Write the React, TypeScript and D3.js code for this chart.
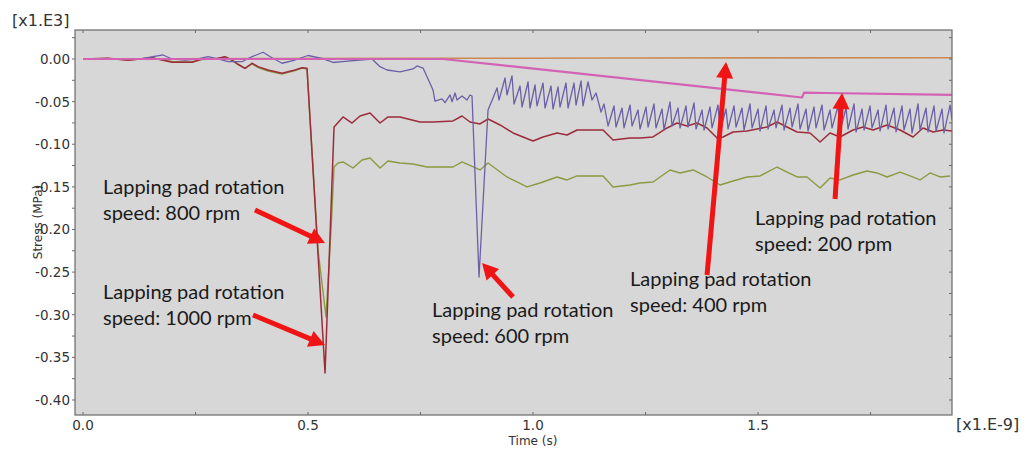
import React from 'react';
import * as d3 from 'd3';

// ---------- data (time in x1.E-9 s, stress in x1.E3 MPa) ----------
const xTickValues = [0, 0.5, 1.0, 1.5];
const xTickLabels = ['0.0', '0.5', '1.0', '1.5'];
const xMinorValues = [0.25, 0.75, 1.25, 1.75];
const yTickValues = [0, -0.05, -0.1, -0.15, -0.2, -0.25, -0.3, -0.35, -0.4];
const yTickLabels = ['0.00', '-0.05', '-0.10', '-0.15', '-0.20', '-0.25', '-0.30', '-0.35', '-0.40'];
const yMinorValues = [0.025, -0.025, -0.075, -0.125, -0.175, -0.225, -0.275, -0.325, -0.375];

// 1000 rpm (dark red)
const redT = [0, 0.0556, 0.1, 0.1533, 0.1978, 0.2422, 0.2644, 0.2933, 0.3156, 0.3311, 0.3444, 0.36, 0.3756, 0.3889, 0.4111, 0.4422, 0.4711, 0.4867, 0.4978, 0.5378, 0.5578, 0.5778, 0.5978, 0.6156, 0.6378, 0.66, 0.6778, 0.7044, 0.7489, 0.7778, 0.8222, 0.8422, 0.86, 0.8822, 0.9, 0.9267, 0.9556, 1.0, 1.0222, 1.0533, 1.0756, 1.0978, 1.1556, 1.1778, 1.2156, 1.2378, 1.2667, 1.2978, 1.32, 1.3422, 1.3644, 1.3867, 1.4089, 1.4222, 1.4444, 1.4756, 1.4978, 1.52, 1.5422, 1.5644, 1.5867, 1.6156, 1.6378, 1.66, 1.6822, 1.7111, 1.7333, 1.7556, 1.7867, 1.8156, 1.8444, 1.8667, 1.8889, 1.9111, 1.9311];
const redV = [0, 0.0008, -0.0015, 0.0015, -0.0039, -0.0039, 0, 0, 0.0027, -0.0012, -0.0062, -0.0109, -0.005, -0.009, -0.0129, -0.0168, -0.0129, -0.0102, -0.0109, -0.3683, -0.0798, -0.068, -0.0751, -0.0669, -0.0633, -0.0751, -0.068, -0.068, -0.0739, -0.0739, -0.0727, -0.0669, -0.0739, -0.0762, -0.0704, -0.0774, -0.0868, -0.0962, -0.0915, -0.0868, -0.0892, -0.0833, -0.0833, -0.095, -0.0927, -0.0927, -0.0915, -0.0809, -0.0751, -0.0786, -0.0751, -0.0809, -0.0927, -0.0915, -0.0856, -0.0845, -0.0821, -0.0798, -0.0739, -0.0798, -0.0856, -0.0868, -0.0974, -0.0868, -0.0915, -0.0833, -0.0798, -0.0833, -0.0774, -0.0833, -0.0915, -0.0809, -0.0856, -0.0833, -0.0845];

// 800 rpm (olive green)
const greenT = [0, 0.0556, 0.1, 0.1533, 0.1978, 0.2422, 0.2644, 0.2933, 0.3156, 0.3311, 0.3444, 0.36, 0.3756, 0.3889, 0.4111, 0.4422, 0.4711, 0.4867, 0.4978, 0.5222, 0.54, 0.5511, 0.5578, 0.5667, 0.5778, 0.6, 0.62, 0.6378, 0.66, 0.6778, 0.7044, 0.7333, 0.7644, 0.8222, 0.8422, 0.8822, 0.9, 0.9422, 0.9867, 1.0156, 1.0533, 1.0756, 1.0978, 1.1556, 1.1778, 1.2156, 1.2378, 1.2667, 1.3044, 1.3267, 1.3556, 1.3867, 1.4156, 1.4444, 1.4756, 1.5044, 1.5422, 1.5644, 1.5867, 1.6089, 1.6378, 1.66, 1.6822, 1.7111, 1.7422, 1.7644, 1.7867, 1.8156, 1.8378, 1.86, 1.8822, 1.9044, 1.9267];
const greenV = [0, 0.0006, -0.0012, 0.0012, -0.0029, -0.0035, -0.0006, 0, 0.0023, -0.0018, -0.0064, -0.0111, -0.0059, -0.01, -0.0141, -0.0176, -0.0135, -0.0106, -0.0117, -0.224, -0.3026, -0.2006, -0.1267, -0.122, -0.1208, -0.1279, -0.1185, -0.1161, -0.1279, -0.1196, -0.122, -0.1232, -0.1267, -0.1267, -0.1208, -0.1302, -0.122, -0.1384, -0.1501, -0.1455, -0.1384, -0.1419, -0.1372, -0.1372, -0.1501, -0.1478, -0.1455, -0.1443, -0.1302, -0.1337, -0.1302, -0.1384, -0.1478, -0.1431, -0.1384, -0.1372, -0.1267, -0.1326, -0.1384, -0.1384, -0.1513, -0.1396, -0.1419, -0.1361, -0.1314, -0.1337, -0.1384, -0.1326, -0.1372, -0.1419, -0.1337, -0.1384, -0.1372];

// 600 rpm (purple)
const purpleT = [0, 0.1267, 0.1778, 0.1978, 0.2267, 0.2556, 0.2778, 0.3, 0.3222, 0.3533, 0.3756, 0.4, 0.42, 0.4422, 0.4711, 0.5, 0.5311, 0.5556, 0.5822, 0.6156, 0.6422, 0.66, 0.6756, 0.7044, 0.7333, 0.7422, 0.7556, 0.7778, 0.7822, 0.7978, 0.8044, 0.8156, 0.82, 0.8267, 0.8311, 0.8422, 0.8533, 0.86, 0.8644, 0.88, 0.9, 0.9111, 0.92,
  0.9244, 0.9378, 0.9422, 0.9533, 0.9578, 0.9711, 0.9756, 0.9889, 0.9933, 1.0044, 1.0089, 1.0222, 1.0267, 1.04, 1.0444, 1.0556, 1.06, 1.0733, 1.0778, 1.0911, 1.0956, 1.1067, 1.1111, 1.1222, 1.1311, 1.14, 1.1511, 1.1578, 1.1667,
  1.18, 1.1844, 1.1978, 1.2022, 1.2156, 1.22, 1.2333, 1.2378, 1.2511, 1.2556, 1.2689, 1.2733, 1.2867, 1.2911, 1.3044, 1.3089, 1.3222, 1.3267, 1.34, 1.3444, 1.3578, 1.3622, 1.3756, 1.38, 1.3933, 1.3978, 1.4111, 1.4156, 1.4289, 1.4333, 1.4467, 1.4511, 1.4644, 1.4689, 1.4822, 1.4867, 1.5, 1.5044, 1.5178, 1.5222, 1.5356, 1.54, 1.5533, 1.5578, 1.5711, 1.5756, 1.5889, 1.5933, 1.6067, 1.6111, 1.6244, 1.6289, 1.6422, 1.6467, 1.66, 1.6644, 1.6778, 1.6822, 1.6956, 1.7, 1.7133, 1.7178, 1.7311, 1.7356, 1.7489, 1.7533, 1.7667, 1.7711, 1.7844, 1.7889, 1.8022, 1.8067, 1.82, 1.8244, 1.8378, 1.8422, 1.8556, 1.86, 1.8733, 1.8778, 1.8911, 1.8956, 1.9089, 1.9133, 1.9267, 1.9311];
const purpleV = [0, 0, 0.0047, 0, -0.0012, 0, 0.0027, 0, -0.0032, -0.0032, 0.0027, 0.0079, 0.0015, -0.005, -0.0012, 0.0041, 0.0006, -0.0041, -0.0029, -0.0012, 0, -0.009, -0.0129, -0.0152, -0.0117, -0.0082, -0.0106, -0.0364, -0.0493, -0.0469, -0.0513, -0.0422, -0.0501, -0.0399, -0.0481, -0.0434, -0.0481, -0.0422, -0.0434, -0.2557, -0.0598, -0.0457, -0.034,
  -0.0481, -0.0223, -0.0422, -0.0199, -0.0528, -0.0317, -0.0563, -0.027, -0.0575, -0.0305, -0.0551, -0.0282, -0.0575, -0.0317, -0.0587, -0.0328, -0.0563, -0.0282, -0.0575, -0.0282, -0.054, -0.0258, -0.0551, -0.027, -0.0481, -0.0399, -0.0622, -0.0528, -0.0786,
  -0.0551, -0.0798, -0.0575, -0.0809, -0.054, -0.0786, -0.0598, -0.0821, -0.0563, -0.0798, -0.0528, -0.0809, -0.0587, -0.0833, -0.0504, -0.0786, -0.0575, -0.0809, -0.0551, -0.0798, -0.0516, -0.0821, -0.0598, -0.0833, -0.0563, -0.0809, -0.054, -0.0845, -0.0587, -0.0821, -0.0551, -0.0798, -0.0575, -0.0833, -0.0528, -0.0809, -0.0587, -0.0845, -0.0551, -0.0821, -0.0598, -0.0809, -0.054, -0.0833, -0.0575, -0.0798, -0.0528, -0.0821, -0.0587, -0.0845, -0.0563, -0.0809, -0.054, -0.0833, -0.0598, -0.0809, -0.0551, -0.0845, -0.0575, -0.0821, -0.0528, -0.0856, -0.0587, -0.0833, -0.0551, -0.0809, -0.0598, -0.0845, -0.054, -0.0821, -0.0575, -0.0856, -0.0551, -0.0833, -0.0587, -0.0868, -0.0528, -0.0833, -0.0575, -0.0856, -0.0551, -0.0845, -0.0587, -0.0868, -0.054, -0.0716];

// 200 rpm (pink)
const pinkT = [0, 0.8, 1.5978, 1.6022, 1.65, 1.9311];
const pinkV = [0, 0, -0.0452, -0.0395, -0.0399, -0.0422];

// 400 rpm (orange)
const orangeT = [0, 0.8, 1.2, 1.9311];
const orangeV = [0, 0.0008, 0.0012, 0.0015];

// annotations: text anchor and arrow (data coordinates)
const annotationSpeeds = ['800', '1000', '600', '400', '200'];
const annotationTextT = [0.0444, 0.0444, 0.7756, 1.2156, 1.4933];
const annotationTextV = [-0.1584, -0.2815, -0.3026, -0.2662, -0.1947];
const arrowFromT = [0.3822, 0.3778, 0.9556, 1.3867, 1.6711];
const arrowFromV = [-0.1771, -0.3003, -0.2792, -0.2534, -0.1642];
const arrowToT = [0.5378, 0.5378, 0.8867, 1.4289, 1.6867];
const arrowToV = [-0.2158, -0.3355, -0.2393, -0.0035, -0.0399];

const W = 1032;
const H = 451;
const plot = { left: 75, right: 952, top: 30, bottom: 415 };

const x = d3.scaleLinear().domain([-0.0178, 1.931]).range([plot.left, plot.right]);
const y = d3.scaleLinear().domain([0.034, -0.4176]).range([plot.top, plot.bottom]);

const toPts = (ts: number[], vs: number[]) => ts.map((t, i) => [t, vs[i]] as [number, number]);
const lineGen = d3.line<[number, number]>().x((d) => x(d[0])).y((d) => y(d[1]));

const series = [
  { name: '400 rpm', t: orangeT, v: orangeV, color: '#cc8a52', width: 1.6 },
  { name: '800 rpm', t: greenT, v: greenV, color: '#8c9a42', width: 1.4 },
  { name: '1000 rpm', t: redT, v: redV, color: '#9c2c3a', width: 1.5 },
  { name: '600 rpm', t: purpleT, v: purpleV, color: '#6a60a6', width: 1.3 },
  { name: '200 rpm', t: pinkT, v: pinkV, color: '#d462b4', width: 2.2 },
];

function Arrow({ x1, y1, x2, y2 }: { x1: number; y1: number; x2: number; y2: number }) {
  const dx = x2 - x1;
  const dy = y2 - y1;
  const len = Math.sqrt(dx * dx + dy * dy);
  const ux = dx / len;
  const uy = dy / len;
  const headLen = 16;
  const headHalf = 8.5;
  const bx = x2 - ux * headLen;
  const by = y2 - uy * headLen;
  const px = -uy;
  const py = ux;
  const pts = [
    [x2, y2],
    [bx + px * headHalf, by + py * headHalf],
    [bx - px * headHalf, by - py * headHalf],
  ]
    .map((p) => p.join(','))
    .join(' ');
  return (
    <g>
      <line x1={x1} y1={y1} x2={bx + ux * 2} y2={by + uy * 2} stroke="#f01414" strokeWidth={5} />
      <polygon points={pts} fill="#f01414" />
    </g>
  );
}

export default function App() {
  const tickFont = 'DejaVu Sans, Verdana, sans-serif';
  const annoFont = 'Lato, Calibri, sans-serif';
  const axisColor = '#6a6a6a';
  const labelColor = '#333333';
  return (
    <svg
      width={W}
      height={H}
      viewBox={`0 0 ${W} ${H}`}
      style={{ position: 'absolute', left: 0, top: 0, background: '#ffffff' }}
    >
      <rect x={0} y={0} width={W} height={H} fill="#ffffff" />
      <rect
        x={plot.left}
        y={plot.top}
        width={plot.right - plot.left}
        height={plot.bottom - plot.top}
        fill="#d7d7d7"
      />
      <defs>
        <clipPath id="plotclip">
          <rect x={plot.left} y={plot.top} width={plot.right - plot.left} height={plot.bottom - plot.top} />
        </clipPath>
      </defs>

      <g clipPath="url(#plotclip)">
        {series.map((s) => (
          <path
            key={s.name}
            d={lineGen(toPts(s.t, s.v)) || ''}
            fill="none"
            stroke={s.color}
            strokeWidth={s.width}
            strokeLinejoin="round"
          />
        ))}
      </g>

      {/* frame */}
      <rect
        x={plot.left}
        y={plot.top}
        width={plot.right - plot.left}
        height={plot.bottom - plot.top}
        fill="none"
        stroke={axisColor}
        strokeWidth={1.2}
      />

      {/* x ticks (bottom & top, inward) */}
      {[...xTickValues, ...xMinorValues].map((t, i) => (
        <g key={'xt' + i}>
          <line x1={x(t)} x2={x(t)} y1={plot.bottom} y2={plot.bottom - 3} stroke={axisColor} />
          <line x1={x(t)} x2={x(t)} y1={plot.top} y2={plot.top + 3} stroke={axisColor} />
        </g>
      ))}
      {xTickValues.map((t, i) => (
        <text
          key={'xl' + i}
          x={x(t)}
          y={430}
          textAnchor="middle"
          fontFamily={tickFont}
          fontSize={13.5}
          fill={labelColor}
        >
          {xTickLabels[i]}
        </text>
      ))}

      {/* y ticks (left outward, right inward) */}
      {[...yTickValues, ...yMinorValues].map((v, i) => (
        <g key={'yt' + i}>
          <line x1={plot.left - 3} x2={plot.left} y1={y(v)} y2={y(v)} stroke={axisColor} />
          <line x1={plot.right - 3} x2={plot.right} y1={y(v)} y2={y(v)} stroke={axisColor} />
        </g>
      ))}
      {yTickValues.map((v, i) => (
        <text
          key={'yl' + i}
          x={70}
          y={y(v) + 5}
          textAnchor="end"
          fontFamily={tickFont}
          fontSize={13.5}
          fill={labelColor}
        >
          {yTickLabels[i]}
        </text>
      ))}

      {/* unit labels */}
      <text x={12} y={26} fontFamily={tickFont} fontSize={16} fill={labelColor}>
        [x1.E3]
      </text>
      <text x={956} y={430} fontFamily={tickFont} fontSize={16} fill={labelColor}>
        [x1.E-9]
      </text>
      <text x={533} y={445} textAnchor="middle" fontFamily={tickFont} fontSize={12} fill={labelColor}>
        Time (s)
      </text>
      <text
        transform={`translate(42,222) rotate(-90)`}
        textAnchor="middle"
        fontFamily={tickFont}
        fontSize={12}
        fill={labelColor}
      >
        Stress (MPa)
      </text>

      {/* annotations */}
      {annotationSpeeds.map((sp, i) => (
        <g key={'an' + i}>
          <text
            x={x(annotationTextT[i])}
            y={y(annotationTextV[i])}
            fontFamily={annoFont}
            fontSize={20}
            fill="#1a1a1a"
          >
            <tspan x={x(annotationTextT[i])} dy={0}>
              Lapping pad rotation
            </tspan>
            <tspan x={x(annotationTextT[i])} dy={26}>
              {`speed: ${sp} rpm`}
            </tspan>
          </text>
          <Arrow x1={x(arrowFromT[i])} y1={y(arrowFromV[i])} x2={x(arrowToT[i])} y2={y(arrowToV[i])} />
        </g>
      ))}
    </svg>
  );
}
